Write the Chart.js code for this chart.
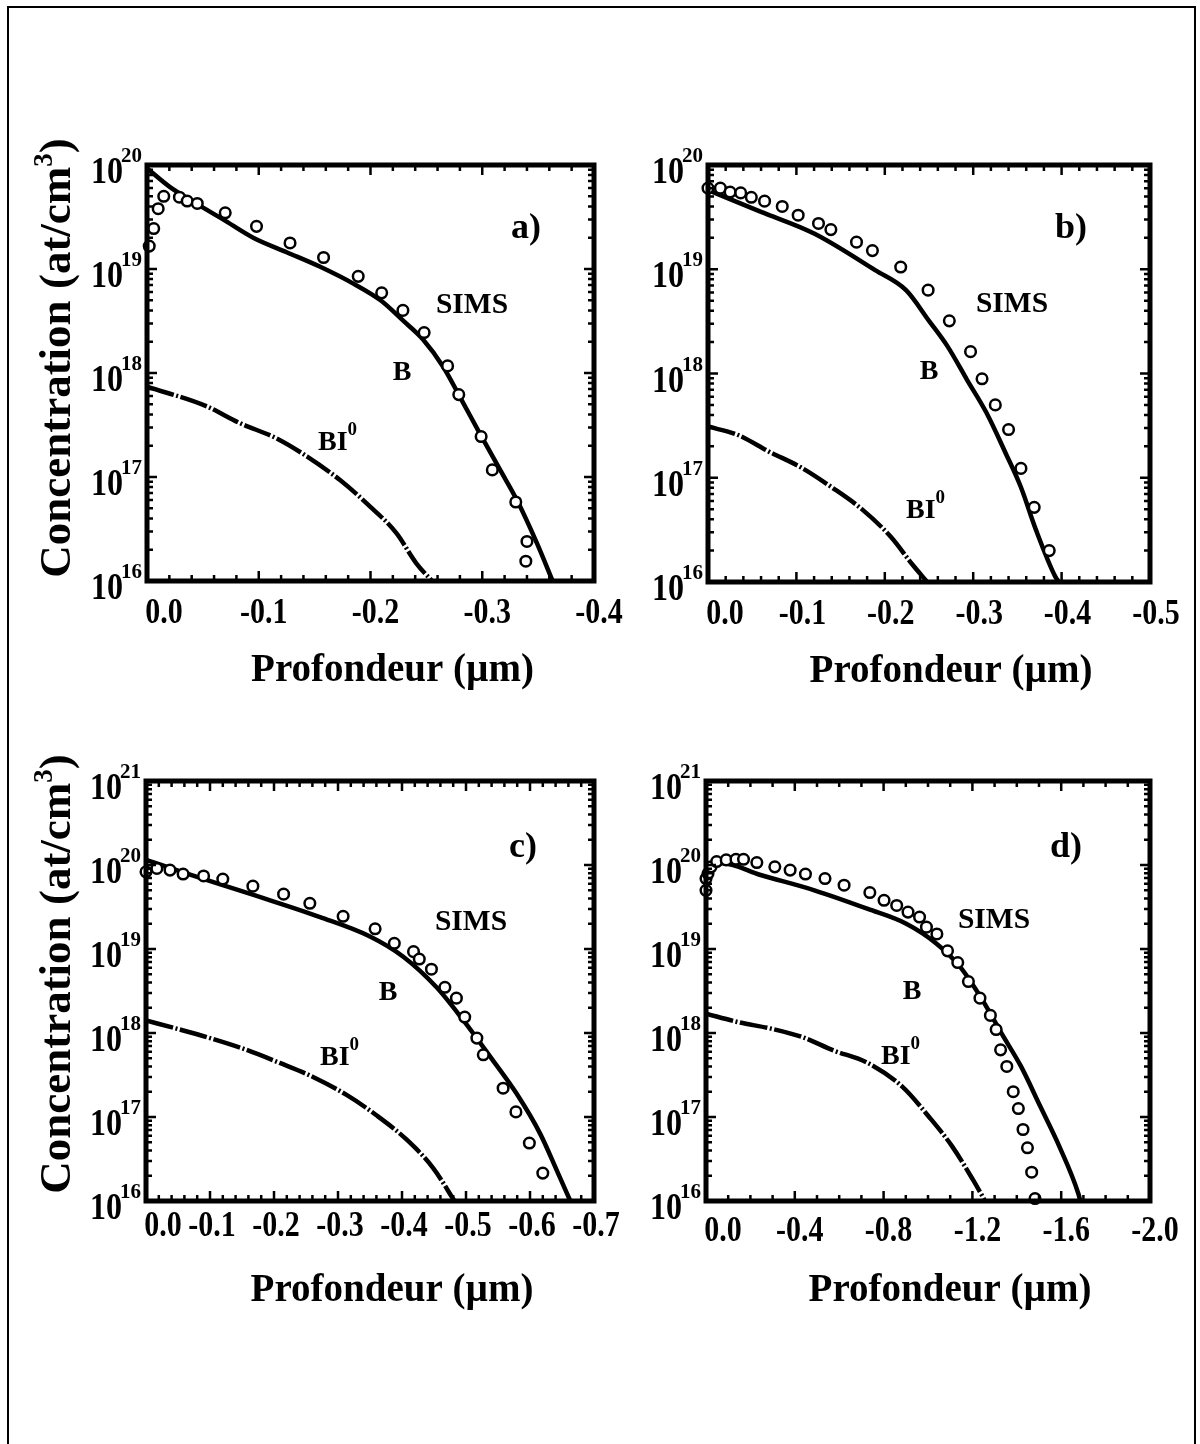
<!DOCTYPE html>
<html>
<head>
<meta charset="utf-8">
<script src="https://cdn.jsdelivr.net/npm/chart.js@4.4.1/dist/chart.umd.min.js"></script>
<style>
html,body{margin:0;padding:0;background:#fff;width:1200px;height:1444px;overflow:hidden;}
#frame{position:absolute;left:7px;top:6px;width:1189px;height:1470px;border:2px solid #000;box-sizing:border-box;}
canvas{position:absolute;}
</style>
</head>
<body>
<div id="frame"></div>
<canvas id="pa" width="640" height="620" style="left:0px;top:120px;width:640px;height:620px"></canvas>
<canvas id="pb" width="600" height="620" style="left:600px;top:120px;width:600px;height:620px"></canvas>
<canvas id="pc" width="640" height="620" style="left:0px;top:740px;width:640px;height:620px"></canvas>
<canvas id="pd" width="600" height="620" style="left:600px;top:740px;width:600px;height:620px"></canvas>
<script>
// ---------------- DATA ----------------
// Tick labels
const aXTicks = [0, -0.1, -0.2, -0.3, -0.4];
const bXTicks = [0, -0.1, -0.2, -0.3, -0.4, -0.5];
const cXTicks = [0, -0.1, -0.2, -0.3, -0.4, -0.5, -0.6, -0.7];
const dXTicks = [0, -0.4, -0.8, -1.2, -1.6, -2.0];
const abYExp = [16, 17, 18, 19, 20];
const cdYExp = [16, 17, 18, 19, 20, 21];

// Panel a
const aB_depth = [0, -0.02, -0.045, -0.068, -0.095, -0.125, -0.155, -0.185, -0.209, -0.229, -0.247, -0.265, -0.28, -0.298, -0.316, -0.331, -0.349, -0.363];
const aB_conc  = [9.3e19, 6.2e19, 4.2e19, 3.0e19, 2.0e19, 1.45e19, 1.05e19, 7.2e18, 5.0e18, 3.2e18, 2.1e18, 1.15e18, 5.9e17, 2.6e17, 1.17e17, 6.0e16, 2.3e16, 1.0e16];
const aBI_depth = [0, -0.053, -0.083, -0.116, -0.143, -0.173, -0.198, -0.223, -0.241, -0.255];
const aBI_conc  = [7.4e17, 4.8e17, 3.3e17, 2.35e17, 1.58e17, 9.3e16, 5.4e16, 2.9e16, 1.48e16, 1.0e16];
const aS_depth = [-0.002, -0.006, -0.010, -0.015, -0.029, -0.036, -0.045, -0.070, -0.098, -0.128, -0.158, -0.189, -0.210, -0.229, -0.248, -0.269, -0.279, -0.299, -0.309, -0.330, -0.340, -0.339];
const aS_conc  = [1.66e19, 2.45e19, 3.8e19, 5.0e19, 4.9e19, 4.5e19, 4.27e19, 3.47e19, 2.57e19, 1.78e19, 1.29e19, 8.5e18, 5.9e18, 4.0e18, 2.45e18, 1.17e18, 6.2e17, 2.45e17, 1.17e17, 5.75e16, 2.4e16, 1.55e16];

// Panel b
const bB_depth = [0, -0.060, -0.120, -0.189, -0.224, -0.250, -0.271, -0.293, -0.315, -0.337, -0.354, -0.371, -0.393, -0.397];
const bB_conc  = [5.75e19, 3.55e19, 2.2e19, 9.8e18, 6.3e18, 3.2e18, 1.82e18, 8.7e17, 4.2e17, 1.7e17, 8.1e16, 3.16e16, 1.12e16, 1.0e16];
const bBI_depth = [0, -0.034, -0.069, -0.105, -0.140, -0.174, -0.207, -0.231, -0.248];
const bBI_conc  = [3.1e17, 2.57e17, 1.78e17, 1.26e17, 8.1e16, 5.0e16, 2.7e16, 1.48e16, 1.0e16];
const bS_depth = [0, -0.014, -0.025, -0.037, -0.049, -0.064, -0.084, -0.102, -0.125, -0.139, -0.168, -0.186, -0.218, -0.249, -0.273, -0.297, -0.310, -0.325, -0.340, -0.354, -0.369, -0.386];
const bS_conc  = [6.0e19, 6.0e19, 5.5e19, 5.4e19, 4.9e19, 4.5e19, 4.0e19, 3.3e19, 2.75e19, 2.4e19, 1.82e19, 1.51e19, 1.05e19, 6.3e18, 3.2e18, 1.62e18, 8.9e17, 5.0e17, 2.9e17, 1.23e17, 5.2e16, 2.0e16];

// Panel c
const cB_depth = [0, -0.064, -0.168, -0.272, -0.35, -0.402, -0.454, -0.496, -0.538, -0.579, -0.616, -0.642, -0.663];
const cB_conc  = [1.15e20, 7.9e19, 4.4e19, 2.4e19, 1.41e19, 8.1e18, 3.5e18, 1.41e18, 5.2e17, 1.9e17, 6.3e16, 2.3e16, 1.0e16];
const cBI_depth = [0, -0.053, -0.100, -0.157, -0.209, -0.261, -0.314, -0.360, -0.407, -0.449, -0.482];
const cBI_conc  = [1.41e18, 1.1e18, 8.7e17, 6.3e17, 4.4e17, 3.0e17, 1.82e17, 1.05e17, 5.4e16, 2.45e16, 1.0e16];
const cS_depth = [0, -0.017, -0.0375, -0.058, -0.090, -0.120, -0.167, -0.215, -0.256, -0.308, -0.358, -0.388, -0.418, -0.427, -0.446, -0.467, -0.485, -0.498, -0.517, -0.527, -0.558, -0.578, -0.599, -0.620];
const cS_conc  = [8.3e19, 9.1e19, 8.7e19, 7.8e19, 7.4e19, 6.8e19, 5.6e19, 4.5e19, 3.5e19, 2.45e19, 1.74e19, 1.17e19, 9.3e18, 7.6e18, 5.75e18, 3.5e18, 2.6e18, 1.55e18, 8.7e17, 5.5e17, 2.2e17, 1.15e17, 4.9e16, 2.15e16];

// Panel d
const dB_depth = [0, -0.074, -0.246, -0.488, -0.729, -0.902, -1.04, -1.143, -1.246, -1.332, -1.419, -1.505, -1.591, -1.677, -1.686];
const dB_conc  = [8.9e19, 1.05e20, 7.6e19, 5.0e19, 3.0e19, 2.0e19, 1.15e19, 6.2e18, 2.45e18, 9.8e17, 4.0e17, 1.35e17, 4.5e16, 1.23e16, 1.0e16];
const dBI_depth = [0, -0.143, -0.298, -0.436, -0.574, -0.729, -0.884, -1.005, -1.108, -1.203, -1.257];
const dBI_conc  = [1.7e18, 1.35e18, 1.12e18, 8.9e17, 6.2e17, 4.4e17, 2.3e17, 1.0e17, 4.5e16, 1.78e16, 1.0e16];
const dS_depth = [0, 0, -0.009, -0.023, -0.048, -0.091, -0.135, -0.169, -0.229, -0.310, -0.379, -0.448, -0.536, -0.622, -0.738, -0.802, -0.859, -0.910, -0.962, -0.993, -1.040, -1.088, -1.134, -1.182, -1.234, -1.281, -1.307, -1.327, -1.355, -1.384, -1.407, -1.428, -1.448, -1.467, -1.482];
const dS_conc  = [5.0e19, 6.9e19, 7.9e19, 9.5e19, 1.1e20, 1.15e20, 1.17e20, 1.17e20, 1.07e20, 9.5e19, 8.7e19, 7.8e19, 6.9e19, 5.75e19, 4.7e19, 3.8e19, 3.3e19, 2.75e19, 2.4e19, 1.82e19, 1.51e19, 9.5e18, 6.9e18, 4.1e18, 2.6e18, 1.62e18, 1.1e18, 6.3e17, 4.0e17, 2.0e17, 1.26e17, 7.1e16, 4.3e16, 2.2e16, 1.07e16];

// ---------------- RENDERING ----------------
const FONT = '"Liberation Serif", "Times New Roman", serif';
function zip(xs, ys) { return xs.map((x, i) => ({x: x, y: ys[i]})); }

function txt(ctx, s, x, y, size, align, sy) {
  ctx.save();
  ctx.font = 'bold ' + size + 'px ' + FONT;
  ctx.textAlign = align || 'left';
  ctx.textBaseline = 'alphabetic';
  ctx.translate(x, y);
  ctx.scale(1, sy || 1);
  ctx.fillText(s, 0, 0);
  ctx.restore();
}
function measure(ctx, s, size) {
  ctx.save();
  ctx.font = 'bold ' + size + 'px ' + FONT;
  const w = ctx.measureText(s).width;
  ctx.restore();
  return w;
}

const decoPlugin = {
  id: 'deco',
  afterDatasetsDraw(chart) {
    const o = chart.options.plugins.deco;
    const ctx = chart.ctx, ca = chart.chartArea;
    const xs = chart.scales.x, ys = chart.scales.y;
    ctx.save();
    ctx.strokeStyle = '#000';
    ctx.fillStyle = '#000';
    ctx.lineCap = 'butt';
    ctx.lineWidth = 2.5;
    const MAJ = 10, MIN = 6;
    // x ticks (inward, top & bottom)
    const nMinor = Math.round(Math.abs(o.xMin) / o.xMinorStep);
    const majorSet = o.xTicks.map(v => Math.round(Math.abs(v) / o.xMinorStep));
    for (let i = 0; i <= nMinor; i++) {
      const v = -i * o.xMinorStep;
      const px = xs.getPixelForValue(v);
      const len = majorSet.includes(i) ? MAJ : MIN;
      ctx.beginPath();
      ctx.moveTo(px, ca.bottom); ctx.lineTo(px, ca.bottom - len);
      ctx.moveTo(px, ca.top); ctx.lineTo(px, ca.top + len);
      ctx.stroke();
    }
    // y ticks (log)
    for (let k = 0; k < o.yExp.length; k++) {
      const e = o.yExp[k];
      for (let m = 1; m <= 9; m++) {
        if (k === o.yExp.length - 1 && m > 1) break;
        const v = m * Math.pow(10, e);
        const py = ys.getPixelForValue(v);
        const len = m === 1 ? MAJ : MIN;
        ctx.beginPath();
        ctx.moveTo(ca.left, py); ctx.lineTo(ca.left + len, py);
        ctx.moveTo(ca.right, py); ctx.lineTo(ca.right - len, py);
        ctx.stroke();
      }
    }
    // frame
    ctx.lineWidth = 5;
    ctx.strokeRect(ca.left, ca.top, ca.right - ca.left, ca.bottom - ca.top);

    // y tick labels 10^n
    for (const e of o.yExp) {
      const py = ys.getPixelForValue(Math.pow(10, e));
      const es = String(e);
      const ew = measure(ctx, es, 21);
      const ex = ca.left - 5;
      txt(ctx, es, ex, py - 3, 21, 'right');
      txt(ctx, '10', ex - ew + 2, py + 18, 32, 'right', 1.16);
    }
    // x tick labels
    for (const v of o.xTicks) {
      const px = xs.getPixelForValue(v);
      const off = v === 0 ? 17 : o.xLabOff;
      txt(ctx, v.toFixed(1), px + off, ca.bottom + o.xLabBase, 30, 'center', 1.18);
    }
    // x title
    txt(ctx, 'Profondeur (\u00B5m)', (ca.left + ca.right) / 2 + 22, ca.bottom + 100, 39, 'center');
    // y title
    if (o.yTitle) {
      const size = 45, ssize = 27;
      const s1 = 'Concentration (at/cm', s2 = '3', s3 = ')';
      const w1 = measure(ctx, s1, size), w2 = measure(ctx, s2, ssize), w3 = measure(ctx, s3, size);
      const total = w1 + w2 + w3;
      ctx.save();
      ctx.translate(70, ca.top + 193);
      ctx.rotate(-Math.PI / 2);
      const st = -total / 2;
      txt(ctx, s1, st, 0, size, 'left');
      txt(ctx, s2, st + w1, -18, ssize, 'left');
      txt(ctx, s3, st + w1 + w2, 0, size, 'left');
      ctx.restore();
    }
    // annotations
    for (const a of o.notes) {
      const x = ca.left + a.dx, y = ca.top + a.dy;
      if (a.sup) {
        txt(ctx, a.t, x, y, a.size, 'left');
        const w = measure(ctx, a.t, a.size);
        txt(ctx, a.sup, x + w, y - 15, 19, 'left');
      } else {
        txt(ctx, a.t, x, y, a.size, 'center');
      }
    }
    ctx.restore();
  }
};

function makeChart(id, cfg) {
  const ctx = document.getElementById(id);
  return new Chart(ctx, {
    type: 'scatter',
    data: {
      datasets: [
        { label: 'SIMS', data: zip(cfg.sD, cfg.sC), showLine: false, pointStyle: 'circle', pointRadius: 5.3, pointBorderWidth: 2.5,
          pointBorderColor: '#000', pointBackgroundColor: '#fff', borderColor: '#000', backgroundColor: '#fff', order: 0, clip: false },
        { label: 'B', data: zip(cfg.bD, cfg.bC), showLine: true, borderColor: '#000', borderWidth: 4.5, pointRadius: 0,
          cubicInterpolationMode: 'monotone', order: 1 },
        { label: 'BI0', data: zip(cfg.iD, cfg.iC), showLine: true, borderColor: '#000', borderWidth: 4.5, pointRadius: 0,
          borderDash: [28, 2.5, 2, 2.5], cubicInterpolationMode: 'monotone', order: 2 }
      ]
    },
    options: {
      responsive: false,
      animation: false,
      devicePixelRatio: 1,
      layout: { padding: cfg.pad },
      scales: {
        x: { type: 'linear', min: cfg.xMin, max: 0, reverse: true, display: false },
        y: { type: 'logarithmic', min: 1e16, max: Math.pow(10, cfg.yExp[cfg.yExp.length - 1]), display: false }
      },
      plugins: {
        legend: { display: false },
        tooltip: { enabled: false },
        deco: {
          xMin: cfg.xMin, xTicks: cfg.xTicks, xMinorStep: cfg.xMinorStep, yExp: cfg.yExp,
          xLabOff: cfg.xLabOff, xLabBase: cfg.xLabBase, yTitle: cfg.yTitle, notes: cfg.notes
        }
      }
    },
    plugins: [decoPlugin]
  });
}

makeChart('pa', {
  sD: aS_depth, sC: aS_conc, bD: aB_depth, bC: aB_conc, iD: aBI_depth, iC: aBI_conc,
  pad: { left: 147, right: 46, top: 45, bottom: 159 },
  xMin: -0.4, xTicks: aXTicks, xMinorStep: 0.02, yExp: abYExp, xLabOff: 5, xLabBase: 42, yTitle: true,
  notes: [
    { t: 'a)', dx: 379, dy: 73, size: 36 },
    { t: 'SIMS', dx: 325, dy: 148, size: 29.5 },
    { t: 'B', dx: 255, dy: 215, size: 28 },
    { t: 'BI', sup: '0', dx: 171, dy: 285, size: 28 }
  ]
});
makeChart('pb', {
  sD: bS_depth, sC: bS_conc, bD: bB_depth, bC: bB_conc, iD: bBI_depth, iC: bBI_conc,
  pad: { left: 108, right: 50, top: 45, bottom: 158 },
  xMin: -0.5, xTicks: bXTicks, xMinorStep: 0.02, yExp: abYExp, xLabOff: 6, xLabBase: 42, yTitle: false,
  notes: [
    { t: 'b)', dx: 363, dy: 73, size: 36 },
    { t: 'SIMS', dx: 304, dy: 147, size: 29.5 },
    { t: 'B', dx: 221, dy: 214, size: 28 },
    { t: 'BI', sup: '0', dx: 198, dy: 353, size: 28 }
  ]
});
makeChart('pc', {
  sD: cS_depth, sC: cS_conc, bD: cB_depth, bC: cB_conc, iD: cBI_depth, iC: cBI_conc,
  pad: { left: 146, right: 46, top: 41, bottom: 159 },
  xMin: -0.7, xTicks: cXTicks, xMinorStep: 0.02, yExp: cdYExp, xLabOff: 2, xLabBase: 35, yTitle: true,
  notes: [
    { t: 'c)', dx: 377, dy: 76, size: 36 },
    { t: 'SIMS', dx: 325, dy: 149, size: 29.5 },
    { t: 'B', dx: 242, dy: 219, size: 28 },
    { t: 'BI', sup: '0', dx: 174, dy: 284, size: 28 }
  ]
});
makeChart('pd', {
  sD: dS_depth, sC: dS_conc, bD: dB_depth, bC: dB_conc, iD: dBI_depth, iC: dBI_conc,
  pad: { left: 106, right: 50, top: 41, bottom: 159 },
  xMin: -2.0, xTicks: dXTicks, xMinorStep: 0.1, yExp: cdYExp, xLabOff: 5, xLabBase: 40, yTitle: false,
  notes: [
    { t: 'd)', dx: 360, dy: 76, size: 36 },
    { t: 'SIMS', dx: 288, dy: 147, size: 29.5 },
    { t: 'B', dx: 206, dy: 218, size: 28 },
    { t: 'BI', sup: '0', dx: 175, dy: 283, size: 28 }
  ]
});
</script>
</body>
</html>
